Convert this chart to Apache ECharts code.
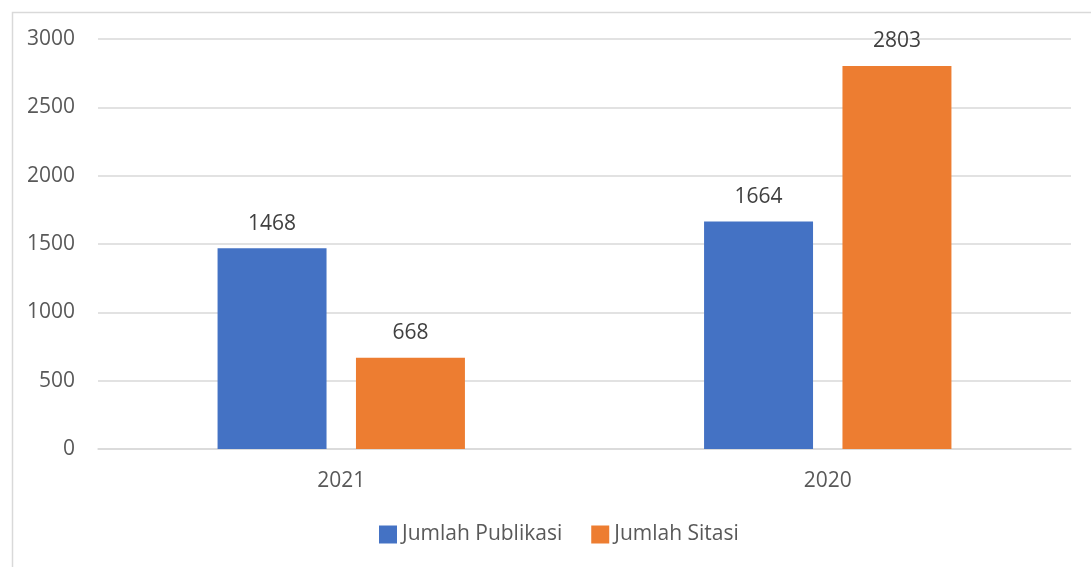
<!DOCTYPE html>
<html>
<head>
<meta charset="utf-8">
<script src="https://cdn.jsdelivr.net/npm/echarts@6/dist/echarts.min.js"></script>
<style>
html,body{margin:0;padding:0;background:#fff;}
#chart{width:1091px;height:567px;}
</style>
</head>
<body>
<div id="chart"></div>
<script>
const categories = ['2021', '2020'];
const publikasi = [1468, 1664];
const sitasi = [668, 2803];
const seriesNames = ['Jumlah Publikasi', 'Jumlah Sitasi'];

const chart = echarts.init(document.getElementById('chart'), null, {renderer: 'canvas'});
const FONT = 'Open Sans';
const labelStyle = {
  show: true, position: 'top', distance: 14,
  color: '#404040', fontFamily: FONT, fontSize: 21
};
chart.setOption({
  animation: false,
  backgroundColor: '#fff',
  graphic: [{
    type: 'rect', left: 10, top: 10, silent: true,
    shape: {width: 1200, height: 700},
    style: {fill: 'none', stroke: '#d9d9d9', lineWidth: 1.5}
  }],
  legend: {
    bottom: 17, left: 374,
    itemWidth: 18, itemHeight: 18, itemGap: 29,
    icon: 'rect',
    textStyle: {color: '#595959', fontFamily: FONT, fontSize: 21},
    data: seriesNames
  },
  grid: {left: 98, right: 20, top: 39, bottom: 118, containLabel: false},
  xAxis: {
    type: 'category', data: categories,
    axisLine: {lineStyle: {color: '#d9d9d9', width: 1.5}},
    axisTick: {show: false},
    axisLabel: {color: '#595959', fontFamily: FONT, fontSize: 21, margin: 22}
  },
  yAxis: {
    type: 'value', min: 0, max: 3000, interval: 500,
    axisLine: {show: false}, axisTick: {show: false},
    splitLine: {lineStyle: {color: '#d9d9d9', width: 1.5}},
    axisLabel: {color: '#595959', fontFamily: FONT, fontSize: 21, margin: 23,
                formatter: v => String(v)}
  },
  series: [
    {name: seriesNames[0], type: 'bar', data: publikasi, barWidth: '22.4%', barGap: '27%',
     itemStyle: {color: '#4472c4'}, label: labelStyle},
    {name: seriesNames[1], type: 'bar', data: sitasi, barWidth: '22.4%', barGap: '27%',
     itemStyle: {color: '#ed7d31'}, label: labelStyle}
  ]
});
</script>
</body>
</html>
